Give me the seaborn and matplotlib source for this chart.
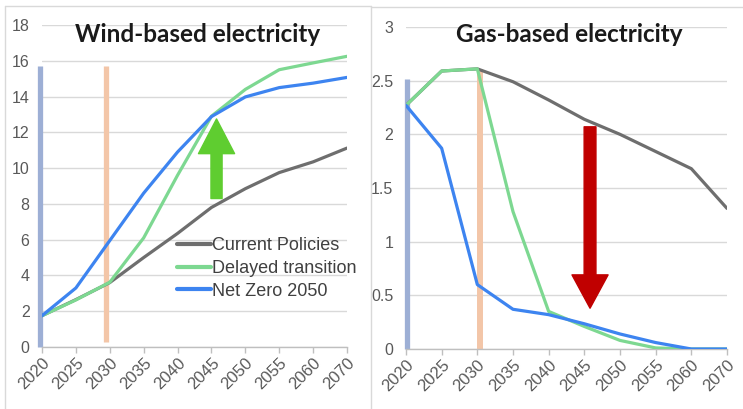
import numpy as np
import pandas as pd
import matplotlib
matplotlib.use("Agg")
import matplotlib.pyplot as plt
import matplotlib.patches as mpatches
from matplotlib.lines import Line2D
import seaborn as sns

sns.set_style("white")
plt.rcParams["font.family"] = ["Liberation Sans", "DejaVu Sans"]

years = ["2020", "2025", "2030", "2035", "2040", "2045", "2050", "2055", "2060", "2070"]
scenarios = ["Current Policies", "Delayed transition", "Net Zero 2050"]
colors = {"Current Policies": "#6e6e6e", "Delayed transition": "#7dd891", "Net Zero 2050": "#3d84f0"}

wind_current = [1.75, 2.65, 3.6, 5.0, 6.35, 7.8, 8.85, 9.75, 10.35, 11.12]
wind_delayed = [1.75, 2.63, 3.62, 6.1, 9.6, 12.9, 14.4, 15.5, 15.88, 16.25]
wind_netzero = [1.75, 3.3, 5.95, 8.6, 10.9, 12.88, 13.98, 14.5, 14.75, 15.07]

gas_current = [2.27, 2.59, 2.61, 2.49, 2.32, 2.14, 2.0, 1.84, 1.68, 1.31]
gas_delayed = [2.27, 2.59, 2.61, 1.28, 0.35, 0.21, 0.08, 0.01, 0.0, 0.0]
gas_netzero = [2.27, 1.87, 0.6, 0.37, 0.32, 0.235, 0.14, 0.06, 0.0, 0.0]

wind_ticks = [0, 2, 4, 6, 8, 10, 12, 14, 16, 18]
gas_ticks = [0, 0.5, 1, 1.5, 2, 2.5, 3]
gas_ticklabels = ["0", "0.5", "1", "1.5", "2", "2.5", "3"]


def long_df(cur, dly, nz):
    rows = []
    for name, vals in zip(scenarios, [cur, dly, nz]):
        for i, v in enumerate(vals):
            rows.append({"pos": i, "year": years[i], "scenario": name, "value": v})
    return pd.DataFrame(rows)


W, H = 743, 409
fig = plt.figure(figsize=(W / 100, H / 100), dpi=100)

axL = fig.add_axes([42 / W, 1 - 347 / H, 305 / W, 322 / H])
axR = fig.add_axes([406 / W, 1 - 349 / H, 321 / W, 322 / H])

tick_color = "#595959"
grid_color = "#d9d9d9"


def style_axes(ax, yticks, ylabels, ymax):
    ax.set_xlim(0, 9)
    ax.set_ylim(0, ymax)
    ax.set_yticks(yticks)
    ax.set_yticklabels(ylabels)
    ax.set_xticks(range(len(years)))
    ax.set_xticklabels(years, rotation=45, ha="right", rotation_mode="anchor")
    for s in ["top", "right", "left"]:
        ax.spines[s].set_visible(False)
    ax.spines["bottom"].set_color("#bfbfbf")
    ax.spines["bottom"].set_linewidth(1.0)
    ax.yaxis.grid(True, color=grid_color, linewidth=1.0)
    ax.xaxis.grid(False)
    ax.set_axisbelow(True)
    ax.tick_params(axis="y", length=0, pad=9, labelsize=11.5, labelcolor=tick_color)
    ax.tick_params(axis="x", length=4, width=1, color="#bfbfbf", direction="out",
                   pad=2, labelsize=12, labelcolor=tick_color, bottom=True)
    ax.set_xlabel("")
    ax.set_ylabel("")
    ax.patch.set_alpha(0)


# Left: wind
dfw = long_df(wind_current, wind_delayed, wind_netzero)
axL.vlines(-0.06, 0, 15.7, color="#9dafd5", linewidth=3.8, zorder=1, clip_on=False)
axL.vlines(1.89, 0.3, 15.7, color="#f3c6a8", linewidth=3.8, zorder=1)
sns.lineplot(data=dfw, x="pos", y="value", hue="scenario", hue_order=scenarios,
             palette=colors, linewidth=2.3, ax=axL, legend=True, zorder=3)
style_axes(axL, wind_ticks, [str(t) for t in wind_ticks], 18)
leg = axL.legend(loc="upper left", bbox_to_anchor=(0.443, 0.342), frameon=False,
                 fontsize=13, handlelength=1.9, handletextpad=0.05,
                 labelspacing=0.33, borderpad=0, borderaxespad=0)
for t in leg.get_texts():
    t.set_color("#404040")
for l in leg.get_lines():
    l.set_linewidth(3.0)

arrowG = mpatches.FancyArrowPatch((5.15, 8.3), (5.15, 12.75),
                                  arrowstyle=mpatches.ArrowStyle("simple", head_length=25, head_width=26, tail_width=8),
                                  mutation_scale=1, color="#5fcd30", shrinkA=0, shrinkB=0, zorder=5)
axL.add_patch(arrowG)

# Right: gas
dfg = long_df(gas_current, gas_delayed, gas_netzero)
axR.vlines(0.03, 0, 2.52, color="#9dafd5", linewidth=3.8, zorder=1, clip_on=False)
axR.vlines(2.07, 0, 2.61, color="#f3c6a8", linewidth=4.3, zorder=1)
sns.lineplot(data=dfg, x="pos", y="value", hue="scenario", hue_order=scenarios,
             palette=colors, linewidth=2.3, ax=axR, legend=False, zorder=3)
style_axes(axR, gas_ticks, gas_ticklabels, 3)
arrowR = mpatches.FancyArrowPatch((5.16, 2.07), (5.16, 0.38),
                                  arrowstyle=mpatches.ArrowStyle("simple", head_length=24, head_width=26, tail_width=8.5),
                                  mutation_scale=1, color="#c00000", shrinkA=0, shrinkB=0, zorder=5)
axR.add_patch(arrowR)

# Titles
fig.text(198 / W, 1 - 34 / H, "Wind-based electricity", ha="center", va="center",
         fontsize=17.5, fontweight="bold", family=["Lato", "DejaVu Sans"], color="#1a1a1a")
fig.text(569 / W, 1 - 34 / H, "Gas-based electricity", ha="center", va="center",
         fontsize=17.5, fontweight="bold", family=["Lato", "DejaVu Sans"], color="#1a1a1a")

# Panel frames
fc = "#d9d9d9"
def fline(x0, y0, x1, y1):
    fig.add_artist(Line2D([x0 / W, x1 / W], [1 - y0 / H, 1 - y1 / H], color=fc, linewidth=1.0))

fline(5, 6, 371, 6)
fline(5, 6, 5, 409)
fline(371, 6, 371, 409)
fline(371, 7, 743, 7)

fig.savefig("out.png", dpi=100)
